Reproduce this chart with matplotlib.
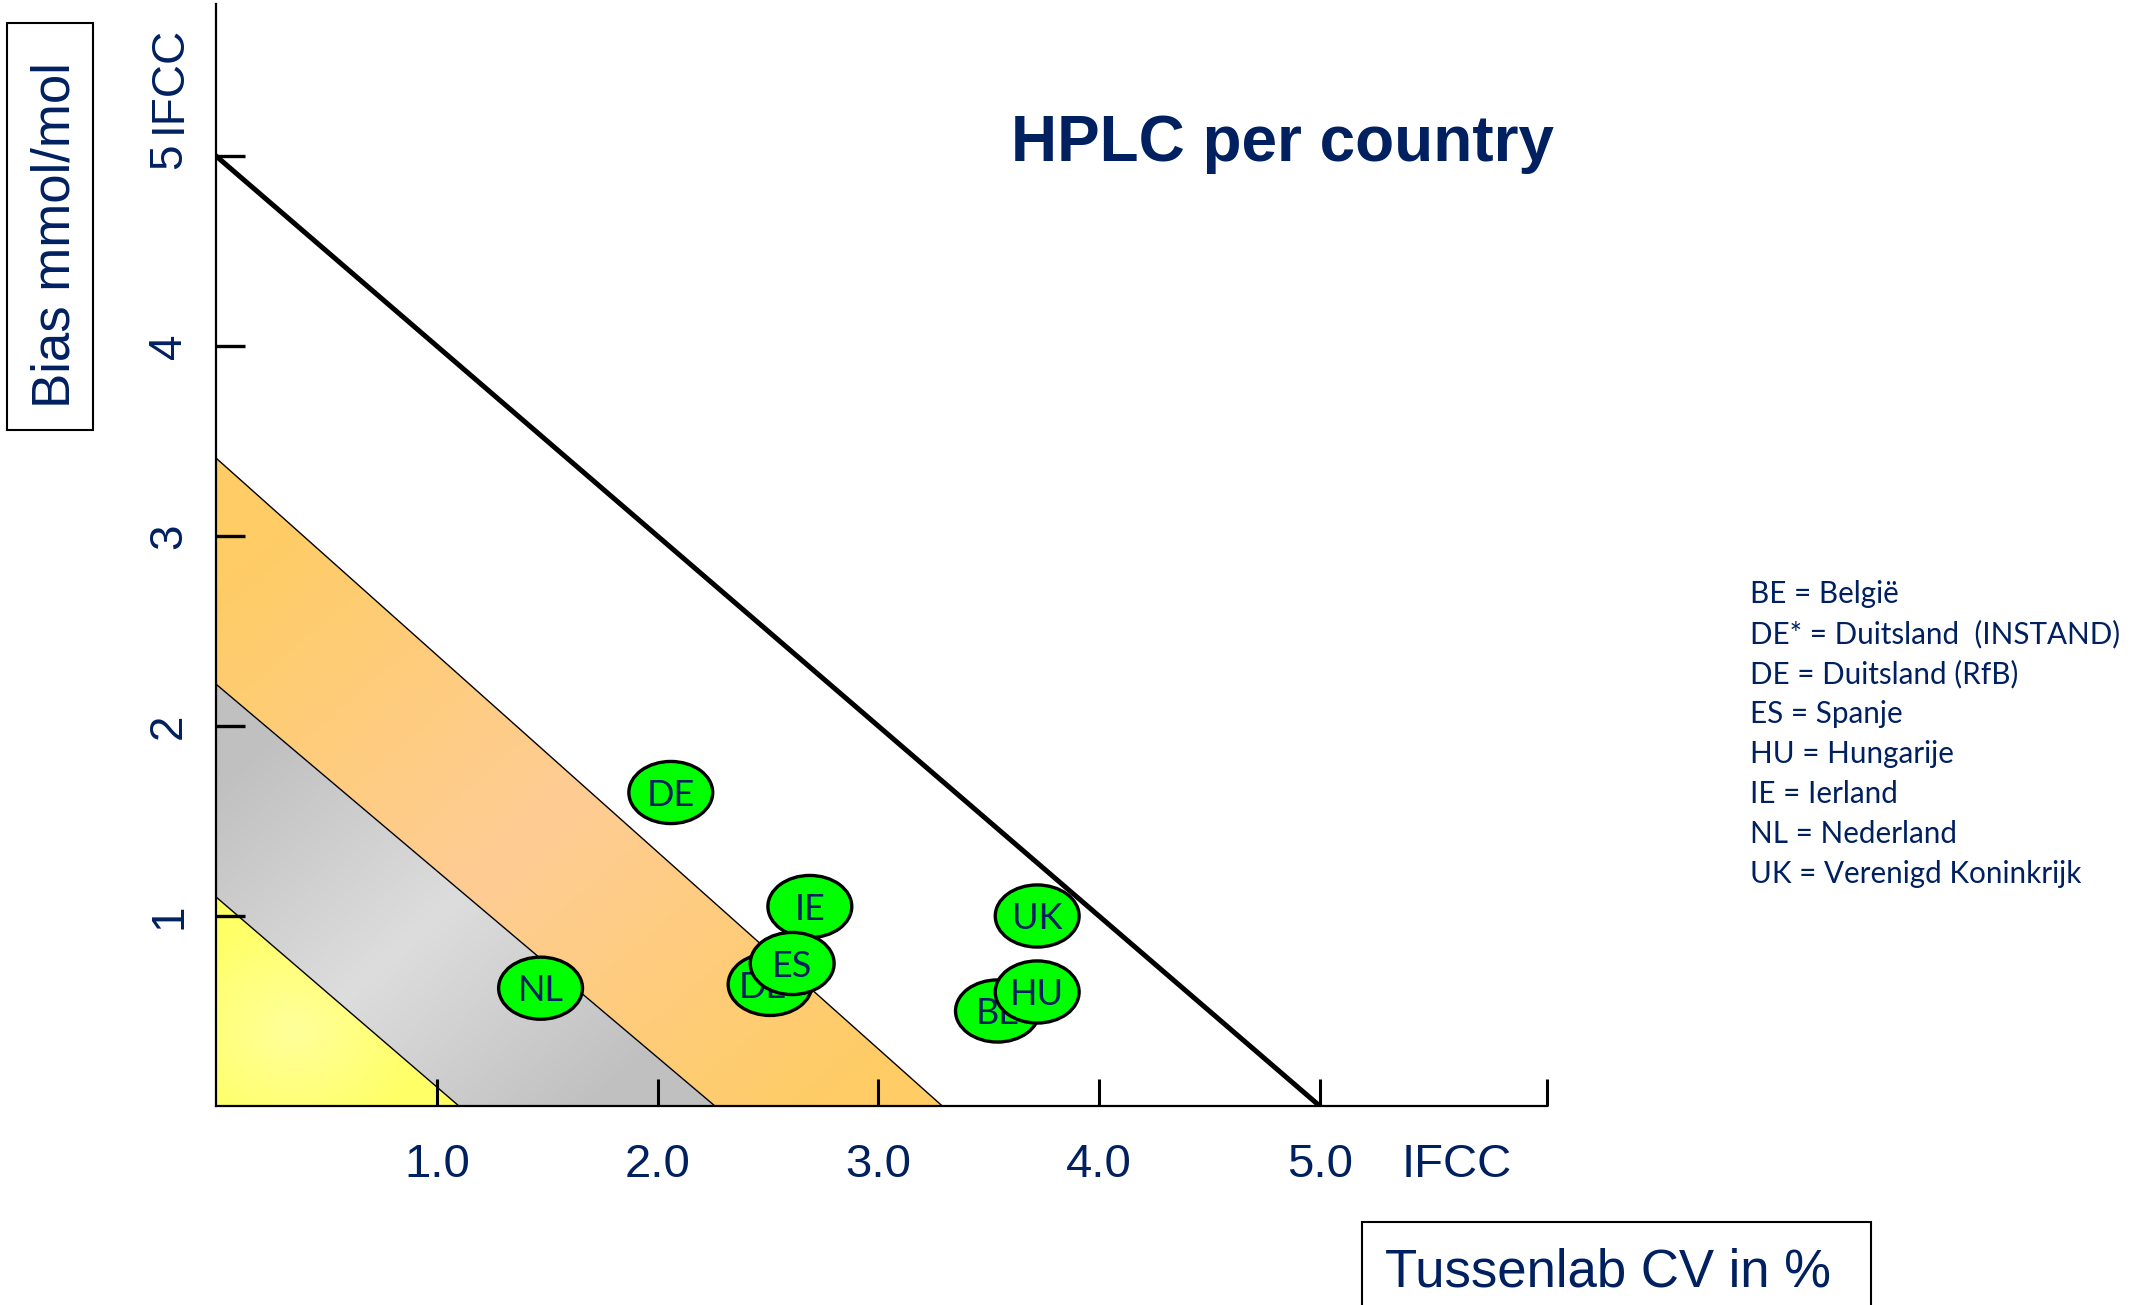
import numpy as np
import matplotlib.pyplot as plt
from matplotlib.patches import Ellipse, Polygon, Rectangle

# landen: tussenlab CV (%) en bias (mmol/mol)
codes = ['DE', 'IE', 'DE*', 'ES', 'UK', 'BE', 'HU', 'NL']
cv = [2.06, 2.69, 2.51, 2.61, 3.72, 3.54, 3.72, 1.47]
bias = [1.65, 1.05, 0.64, 0.75, 1.00, 0.50, 0.60, 0.62]

# grenzen van de zones (snijpunt y-as, snijpunt x-as)
zone_y = [1.10, 2.22, 3.41]
zone_x = [1.10, 2.26, 3.29]
total_limit = 5.0

xticks = [1, 2, 3, 4, 5]
xtick_labels = ['1.0', '2.0', '3.0', '4.0', '5.0']
yticks = [1, 2, 3, 4, 5]
ytick_labels = ['1', '2', '3', '4', '5']

legend_lines = ['BE = België', 'DE* = Duitsland  (INSTAND)', 'DE = Duitsland (RfB)',
                'ES = Spanje', 'HU = Hungarije', 'IE = Ierland', 'NL = Nederland',
                'UK = Verenigd Koninkrijk']

navy = '#002060'
xmax, ymax = 6.03, 5.80

fig = plt.figure(figsize=(21.46, 13.05), dpi=100)
ax = fig.add_axes([0.1007, 0.1525, 0.6202, 0.8444])

# kleurverlopen voor de zones
X, Y = np.meshgrid(np.linspace(0, xmax, 700), np.linspace(0, ymax, 700))

def blend(edge, mid, t):
    t = np.clip(t, 0, 1)[..., None]
    return np.array(mid) / 255 * (1 - t) + np.array(edge) / 255 * t

grads = [
    blend((255, 255, 102), (255, 255, 155), np.hypot(X - 0.35, Y - 0.4) / 0.6),
    blend((192, 192, 192), (221, 221, 221), np.abs(X - Y) / 1.7),
    blend((255, 204, 102), (254, 204, 148), np.abs(X - Y) / 2.7),
]
polys = [
    [(0, 0), (0, zone_y[0]), (zone_x[0], 0)],
    [(zone_x[0], 0), (0, zone_y[0]), (0, zone_y[1]), (zone_x[1], 0)],
    [(zone_x[1], 0), (0, zone_y[1]), (0, zone_y[2]), (zone_x[2], 0)],
]
for img, pts in zip(grads, polys):
    im = ax.imshow(img, origin='lower', extent=[0, xmax, 0, ymax], aspect='auto',
                   interpolation='bilinear', zorder=1)
    im.set_clip_path(Polygon(pts, closed=True, transform=ax.transData))

for zy, zx in zip(zone_y, zone_x):
    ax.plot([0, zx], [zy, 0], color='black', lw=1.0, zorder=2)
ax.plot([0, total_limit], [total_limit, 0], color='black', lw=3.6, zorder=3)

# ellipsen met landcodes
for i, (c, x, y) in enumerate(zip(codes, cv, bias)):
    ax.add_patch(Ellipse((x, y), 0.38, 0.327, facecolor='#00ff00', edgecolor='black',
                         lw=2.4, zorder=10 + 2 * i))
    ax.annotate(c, xy=(x, y), xytext=(0, -9.5), textcoords='offset points',
                ha='center', va='baseline', fontsize=26, family='Lato',
                color=navy, zorder=11 + 2 * i)

ax.set_xlim(0, xmax)
ax.set_ylim(0, ymax)
for s in ['top', 'right']:
    ax.spines[s].set_visible(False)
for s in ['left', 'bottom']:
    ax.spines[s].set_linewidth(1.6)
    ax.spines[s].set_zorder(4)

ax.set_xticks(xticks + [xmax])
ax.set_xticklabels(xtick_labels + [''], family='Liberation Sans', fontsize=34, color=navy)
ax.set_yticks(yticks)
ax.set_yticklabels(ytick_labels, family='Liberation Sans', fontsize=33, color=navy)
ax.tick_params(axis='x', direction='in', length=19.5, width=2.2, pad=27)
ax.tick_params(axis='y', direction='in', length=21, width=2.4, pad=18)
for lab in ax.get_yticklabels():
    lab.set_rotation(90)
    lab.set_va('center')
    lab.set_ha('right')

ax.annotate('IFCC', xy=(0, 5), xytext=(-18, 16.5), textcoords='offset points',
            rotation=90, ha='right', va='bottom', family='Liberation Sans',
            fontsize=33, color=navy)
ax.annotate('IFCC', xy=(5.62, 0), xytext=(0, -27), textcoords='offset points',
            ha='center', va='top', family='Liberation Sans', fontsize=34, color=navy)

# titel en aslabels in kaders
fig.text(0.5974, 0.8766, 'HPLC per country', ha='center', va='baseline',
         family='Liberation Sans', fontweight='bold', fontsize=46, color=navy)

fig.patches.append(Rectangle((0.0033, 0.6705), 0.0401, 0.3119, transform=fig.transFigure,
                             fill=False, edgecolor='black', lw=1.5))
fig.text(0.0326, 0.8199, 'Bias mmol/mol', rotation=90, rotation_mode='anchor',
         ha='center', va='baseline', family='Liberation Sans', fontsize=38, color=navy)

fig.patches.append(Rectangle((0.6347, -0.05), 0.2372, 0.1136, transform=fig.transFigure,
                             fill=False, edgecolor='black', lw=1.5))
fig.text(0.7493, 0.0140, 'Tussenlab CV in %', ha='center', va='baseline',
         family='Liberation Sans', fontsize=38, color=navy)

# legenda met landnamen
for i, line in enumerate(legend_lines):
    fig.text(0.8155, 0.5379 - i * 0.03065, line, ha='left', va='baseline',
             family='Lato', fontsize=21.3, color=navy)

fig.savefig('out.png', dpi=100)
